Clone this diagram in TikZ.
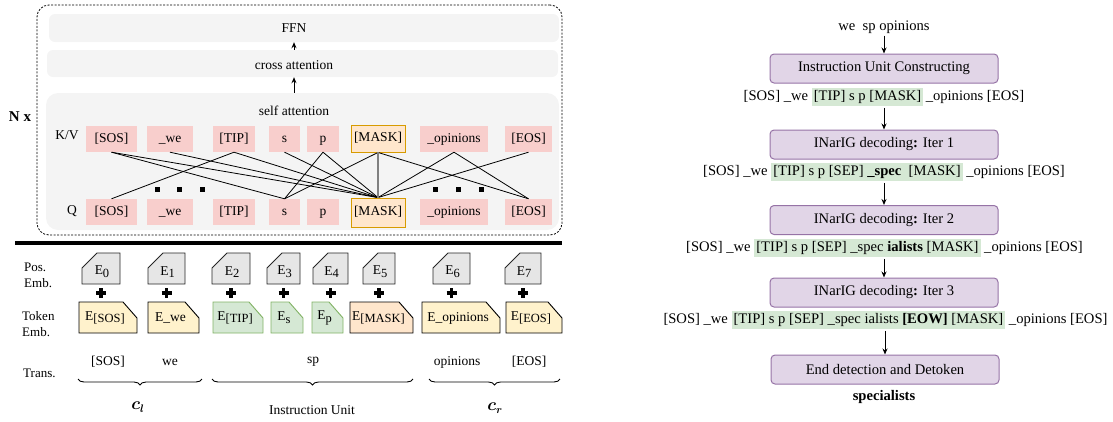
\documentclass[tikz,border=0pt]{standalone}
\usepackage{bm}
\usepackage{fontspec}
\setmainfont{Liberation Serif}
\usetikzlibrary{arrows.meta,positioning,decorations.pathreplacing}

\definecolor{attnpink}{HTML}{F8CECC}
\definecolor{maskfill}{HTML}{FFE6CC}
\definecolor{maskdraw}{HTML}{D79B00}
\definecolor{layergray}{HTML}{F4F4F4}
\definecolor{posgray}{HTML}{E6E6E6}
\definecolor{tokyellow}{HTML}{FFF2CC}
\definecolor{tokgreen}{HTML}{D5E8D4}
\definecolor{tokgreendraw}{HTML}{82B366}
\definecolor{stepfill}{HTML}{E1D5E7}
\definecolor{stepdraw}{HTML}{9673A6}

\newcommand{\lf}{\fontsize{13.5}{16}\selectfont}
\newcommand{\rf}{\fontsize{14.6}{17}\selectfont}
\newcommand{\embsub}[1]{\raisebox{-0.45ex}{\fontsize{12.5}{14}\selectfont #1}}
\newcommand{\hlseg}[1]{{\setlength{\fboxsep}{2pt}\colorbox{tokgreen}{#1}}}

\tikzset{
  attn/.style={fill=attnpink, minimum height=26pt, inner sep=0pt,
    text height=9.5pt, text depth=3pt, font=\lf},
  maskattn/.style={attn, fill=maskfill, draw=maskdraw, line width=0.9pt, minimum height=27pt},
  attnline/.style={line width=0.8pt},
  layer/.style={fill=layergray, rounded corners=6pt, inner sep=0pt},
  flow/.style={-{Stealth[length=6pt,width=5pt]}, line width=1pt},
  stepbox/.style={draw=stepdraw, fill=stepfill, line width=1pt, rounded corners=4pt,
    minimum width=228pt, minimum height=29pt, font=\rf},
  seq/.style={font=\rf, inner sep=2pt},
  rowlbl/.style={font=\fontsize{13}{16}\selectfont, align=left, anchor=west, inner sep=0pt},
  posemb/.style={fill=posgray, draw=black!85, line width=0.9pt},
  brace/.style={decorate, decoration={brace, mirror, amplitude=6pt}, line width=0.9pt},
}

\begin{document}
\begin{tikzpicture}[x=1pt, y=-1pt]
  \useasboundingbox (0,0) rectangle (1113,421);

  % decoder stack
  \node[draw, dashed, dash pattern=on 2pt off 1.5pt, line width=0.8pt, rounded corners=12pt,
    minimum width=525pt, minimum height=230pt] (stack) at (299.5,120) {};
  \node[layer, minimum width=510pt, minimum height=28pt] (ffn) at (304,28) {};
  \node[layer, minimum width=511pt, minimum height=27pt] (cross) at (302.5,63.5) {};
  \node[layer, rounded corners=12pt, minimum width=513pt, minimum height=137pt] (self) at (302.5,161.5) {};
  \node[font=\lf] (ffnlbl) at (294,28) {FFN};
  \node[font=\lf] (crosslbl) at (294,65) {cross attention};
  \node[font=\lf] (selflbl) at (294,111) {self attention};
  \draw[flow] (cross.north -| ffnlbl) -- (ffn.south -| ffnlbl);
  \draw[flow] (self.north -| ffnlbl) -- (cross.south -| ffnlbl);
  \node[font=\fontsize{15}{18}\selectfont\bfseries] (nx) at (20,117) {N x};

  % keys/values and queries
  \node[font=\lf] (kvlbl) at (67,135) {K/V};
  \node[font=\lf] (qlbl) at (72,211) {Q};
  \foreach \n/\lbl/\x/\w in {sos/[SOS]/111.5/51, we/\_we/170/46, tip/[TIP]/234/42,
      s/s/284.5/31, p/p/323/32, op/\_opinions/454/68, eos/[EOS]/528.5/47} {
    \node[attn, minimum width=\w pt] (kv\n) at (\x,139) {\lbl};
    \node[attn, minimum width=\w pt] (q\n) at (\x,212) {\lbl};
  }
  \node[maskattn, minimum width=54pt] (kvmask) at (378,138.5) {[MASK]};
  \node[maskattn, minimum width=54pt, minimum height=29pt] (qmask) at (378,212.5) {[MASK]};

  \foreach \a/\b in {sos/s, sos/mask, we/mask, tip/sos, tip/mask, s/mask, p/s, p/mask,
      mask/s, mask/eos, op/mask, op/eos, eos/mask}
    \draw[attnline] (kv\a.south) -- (q\b.north);
  \draw[attnline, gray, line width=1.5pt] (kvmask) -- (qmask);
  \foreach \x in {157,179,202,435,458,481}
    \fill (\x-2.5,186.5) rectangle (\x+2.5,191.5);

  \draw[line width=3.2pt] (15,243) -- (562,243);

  % embeddings
  \node[rowlbl] (poslbl) at (24,275) {Pos.\\Emb.};
  \node[rowlbl] (toklbl) at (22,324) {Token\\Emb.};
  \node[rowlbl] (trlbl) at (23,373) {Trans.};

  \foreach \i/\l/\r in {0/82/120, 1/148/185, 2/212/250, 3/267/300,
      4/313/348, 5/363/395, 6/433/470, 7/505/541} {
    \filldraw[posemb] (\l,284) -- (\l,268) -- (\l+15,253) -- (\r,253) -- (\r,284) -- cycle;
    \node[font=\lf, inner sep=0pt] (pos\i) at ({(\l+\r)/2+1},272) {E\embsub{\i}};
    \draw[line width=3.4pt] ({(\l+\r)/2-5},293) -- ({(\l+\r)/2+5},293)
      ({(\l+\r)/2},288) -- ({(\l+\r)/2},298);
  }

  \foreach \n/\l/\r/\f/\d/\lbl in {sos/79/137/tokyellow/black/{E\embsub{[SOS]}},
      we/148/199/tokyellow/black/{E\_we},
      tip/213/263/tokgreen/tokgreendraw/{E\embsub{[TIP]}},
      s/271/303/tokgreen/tokgreendraw/{E\embsub{s}},
      p/312/343/tokgreen/tokgreendraw/{E\embsub{p}},
      mask/350/413/maskfill/black/{E\embsub{[MASK]}},
      op/422/500/tokyellow/black/{E\_opinions},
      eos/506/562/tokyellow/black/{E\embsub{[EOS]}}} {
    \filldraw[fill=\f, draw=\d, line width=0.9pt]
      (\l,333) -- (\l,302) -- (\r-14,302) -- (\r,318) -- (\r,333) -- cycle;
    \node[font=\lf, inner sep=0pt] (tok\n) at ({(\l+\r)/2-3},318) {\lbl};
  }

  \node[font=\lf] (trsos) at (108,362) {[SOS]};
  \node[font=\lf] (trwe) at (170,362) {we};
  \node[font=\lf] (trsp) at (313,362) {sp};
  \node[font=\lf] (trop) at (457,362) {opinions};
  \node[font=\lf] (treos) at (529,362) {[EOS]};

  \draw[brace] (78,379) -- (202,379);
  \draw[brace] (212,379) -- (413,379);
  \draw[brace] (429,379) -- (560,379);
  \node[font=\fontsize{16}{18}\selectfont] (cl) at (138,407) {$\bm{c_l}$};
  \node[font=\lf] (iu) at (312,410) {Instruction Unit};
  \node[font=\fontsize{16}{18}\selectfont] (cr) at (495,408) {$\bm{c_r}$};

  % decoding steps
  \node[seq] (inp) at (884,27) {we\ \ sp opinions};
  \node[stepbox] (b1) at (884,68.5) {Instruction Unit Constructing};
  \node[seq] (s1) at (884,97)
    {[SOS] \_we \hlseg{[TIP] s p [MASK]}\,\_opinions [EOS]};
  \node[stepbox] (b2) at (884,144.5) {INarIG decoding\textbf{:} Iter 1};
  \node[seq] (s2) at (884,172)
    {[SOS] \_we \hlseg{[TIP] s p [SEP] \textbf{\_spec}\ \ [MASK]} \_opinions [EOS]};
  \node[stepbox] (b3) at (884,220) {INarIG decoding\textbf{:} Iter 2};
  \node[seq] (s3) at (884.5,248)
    {[SOS] \_we \hlseg{[TIP] s p [SEP] \_spec \textbf{ialists} [MASK]} \_opinions [EOS]};
  \node[stepbox] (b4) at (884,292.5) {INarIG decoding\textbf{:} Iter 3};
  \node[seq] (s4) at (885.5,320)
    {[SOS] \_we \hlseg{[TIP] s p [SEP] \_spec ialists \textbf{[EOW]} [MASK]} \_opinions [EOS]};
  \node[stepbox] (b5) at (885,369.5) {End detection and Detoken};
  \node[seq, font=\rf\bfseries] (outw) at (884,397) {specialists};

  \draw[flow] (inp) -- (b1);
  \draw[flow] (s1.south -| b2.north) -- (b2.north);
  \draw[flow] (s2.south -| b3.north) -- (b3.north);
  \draw[flow] (s3.south -| b4.north) -- (b4.north);
  \draw[flow] (s4.south -| b5.north) -- (b5.north);
\end{tikzpicture}
\end{document}
